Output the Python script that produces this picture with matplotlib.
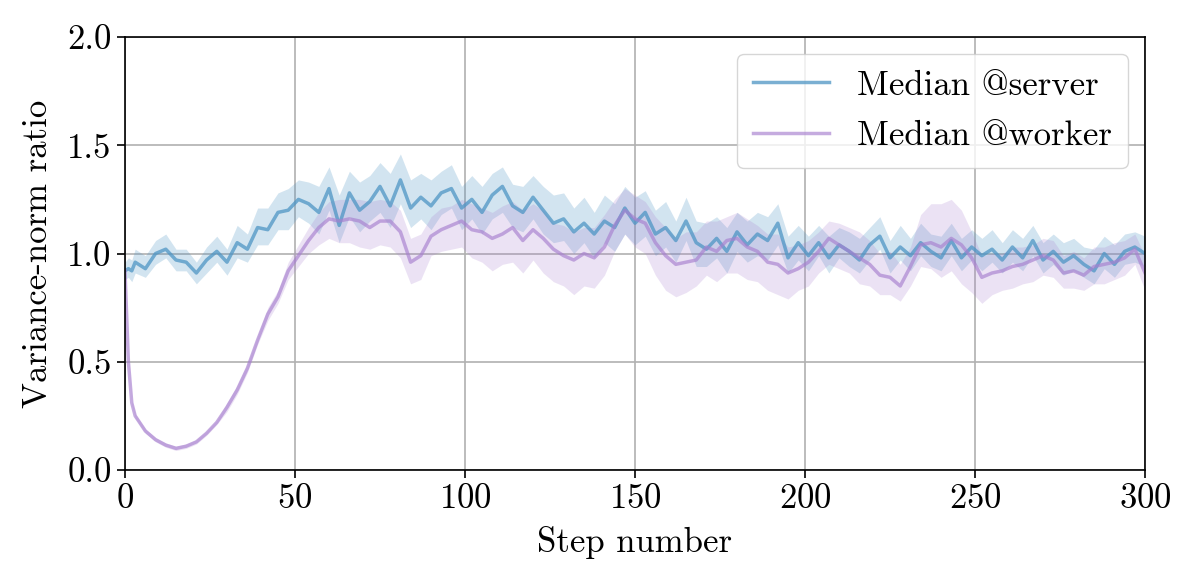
import numpy as np
import matplotlib
matplotlib.use("Agg")
import matplotlib.pyplot as plt

plt.rcParams["font.family"] = ["cmr10", "DejaVu Serif"]
plt.rcParams["mathtext.fontset"] = "cm"
plt.rcParams["axes.formatter.use_mathtext"] = True
plt.rcParams["axes.unicode_minus"] = False

# -----------------------------
# data
# -----------------------------
steps = [0, 1, 2] + list(range(3, 301, 3))

server_med = [
    0.92, 0.93, 0.92, 0.96, 0.93, 1.00, 1.02, 0.97, 0.96, 0.91,
    0.97, 1.01, 0.96, 1.05, 1.02, 1.12, 1.11, 1.19, 1.20, 1.25,
    1.23, 1.19, 1.30, 1.13, 1.28, 1.20, 1.24, 1.31, 1.22, 1.34,
    1.21, 1.26, 1.22, 1.28, 1.30, 1.21, 1.25, 1.19, 1.27, 1.31,
    1.22, 1.19, 1.26, 1.20, 1.14, 1.16, 1.10, 1.14, 1.09, 1.15,
    1.12, 1.21, 1.14, 1.19, 1.09, 1.12, 1.06, 1.15, 1.05, 1.02,
    1.07, 1.01, 1.10, 1.04, 1.09, 1.06, 1.14, 0.98, 1.05, 0.99,
    1.05, 0.98, 1.04, 1.01, 0.97, 1.04, 1.08, 0.98, 1.03, 0.99,
    1.05, 1.01, 0.98, 1.06, 0.98, 1.03, 0.99, 1.02, 0.97, 1.03,
    0.98, 1.06, 0.97, 1.01, 0.96, 0.99, 0.95, 0.92, 1.00, 0.95,
    1.01, 1.03, 1.00,
]
server_lo = [
    0.04, 0.04, 0.05, 0.05, 0.04, 0.05, 0.04, 0.05, 0.04, 0.05,
    0.06, 0.05, 0.06, 0.07, 0.06, 0.08, 0.07, 0.08, 0.09, 0.08,
    0.09, 0.10, 0.10, 0.08, 0.11, 0.10, 0.09, 0.12, 0.10, 0.11,
    0.09, 0.10, 0.11, 0.10, 0.09, 0.10, 0.09, 0.10, 0.11, 0.12,
    0.10, 0.09, 0.10, 0.11, 0.09, 0.10, 0.10, 0.09, 0.11, 0.10,
    0.11, 0.12, 0.10, 0.11, 0.10, 0.09, 0.10, 0.09, 0.11, 0.08,
    0.09, 0.10, 0.09, 0.08, 0.10, 0.09, 0.10, 0.07, 0.08, 0.07,
    0.06, 0.07, 0.06, 0.07, 0.06, 0.07, 0.06, 0.07, 0.06, 0.07,
    0.06, 0.07, 0.06, 0.07, 0.06, 0.06, 0.07, 0.06, 0.06, 0.07,
    0.06, 0.07, 0.06, 0.06, 0.06, 0.07, 0.06, 0.06, 0.07, 0.06,
    0.06, 0.07, 0.06,
]
server_hi = [
    0.04, 0.05, 0.05, 0.06, 0.06, 0.06, 0.07, 0.05, 0.06, 0.05,
    0.06, 0.07, 0.06, 0.08, 0.07, 0.09, 0.10, 0.09, 0.10, 0.09,
    0.10, 0.12, 0.10, 0.14, 0.10, 0.13, 0.12, 0.11, 0.15, 0.12,
    0.13, 0.11, 0.12, 0.10, 0.11, 0.10, 0.11, 0.12, 0.10, 0.09,
    0.10, 0.12, 0.10, 0.11, 0.13, 0.12, 0.11, 0.12, 0.10, 0.12,
    0.11, 0.10, 0.12, 0.10, 0.11, 0.12, 0.09, 0.11, 0.10, 0.12,
    0.10, 0.11, 0.09, 0.11, 0.10, 0.11, 0.09, 0.10, 0.08, 0.09,
    0.08, 0.10, 0.08, 0.09, 0.10, 0.08, 0.09, 0.08, 0.10, 0.08,
    0.09, 0.08, 0.10, 0.08, 0.09, 0.08, 0.08, 0.09, 0.08, 0.08,
    0.09, 0.07, 0.08, 0.08, 0.09, 0.08, 0.08, 0.10, 0.08, 0.09,
    0.08, 0.07, 0.08,
]

worker_med = [
    0.92, 0.50, 0.31, 0.25, 0.18, 0.14, 0.115, 0.10, 0.11, 0.13,
    0.17, 0.22, 0.29, 0.37, 0.47, 0.60, 0.72, 0.80, 0.92, 0.99,
    1.06, 1.12, 1.16, 1.15, 1.16, 1.15, 1.12, 1.15, 1.15, 1.10,
    0.96, 0.99, 1.08, 1.11, 1.13, 1.15, 1.11, 1.10, 1.07, 1.09,
    1.12, 1.06, 1.11, 1.07, 1.02, 0.99, 0.97, 1.00, 0.98, 1.03,
    1.13, 1.20, 1.16, 1.14, 1.05, 0.99, 0.95, 0.96, 0.97, 1.03,
    1.01, 1.06, 1.07, 1.03, 1.01, 0.96, 0.95, 0.91, 0.93, 0.96,
    1.01, 1.07, 1.04, 1.01, 0.98, 0.95, 0.90, 0.89, 0.85, 0.94,
    1.04, 1.05, 1.03, 1.07, 1.04, 0.98, 0.89, 0.91, 0.92, 0.94,
    0.95, 0.97, 0.99, 0.97, 0.91, 0.92, 0.90, 0.94, 0.95, 0.96,
    0.98, 1.02, 0.91,
]
worker_lo = [
    0.01, 0.01, 0.01, 0.01, 0.01, 0.01, 0.01, 0.01, 0.01, 0.01,
    0.01, 0.01, 0.02, 0.02, 0.02, 0.02, 0.03, 0.03, 0.04, 0.05,
    0.06, 0.08, 0.09, 0.10, 0.11, 0.12, 0.10, 0.11, 0.12, 0.12,
    0.10, 0.11, 0.09, 0.10, 0.11, 0.12, 0.13, 0.14, 0.15, 0.14,
    0.16, 0.15, 0.14, 0.16, 0.15, 0.14, 0.16, 0.15, 0.14, 0.13,
    0.12, 0.11, 0.13, 0.14, 0.15, 0.16, 0.15, 0.14, 0.12, 0.13,
    0.14, 0.15, 0.16, 0.15, 0.14, 0.13, 0.14, 0.12, 0.10, 0.11,
    0.10, 0.12, 0.11, 0.10, 0.12, 0.10, 0.09, 0.08, 0.07, 0.09,
    0.10, 0.12, 0.14, 0.15, 0.18, 0.16, 0.12, 0.10, 0.09, 0.10,
    0.09, 0.10, 0.09, 0.08, 0.07, 0.08, 0.07, 0.08, 0.09, 0.08,
    0.08, 0.07, 0.08,
]
worker_hi = [
    0.01, 0.01, 0.01, 0.01, 0.01, 0.01, 0.01, 0.01, 0.01, 0.01,
    0.01, 0.01, 0.02, 0.02, 0.02, 0.02, 0.03, 0.03, 0.04, 0.05,
    0.06, 0.07, 0.08, 0.10, 0.09, 0.10, 0.12, 0.10, 0.09, 0.10,
    0.11, 0.10, 0.09, 0.10, 0.09, 0.10, 0.12, 0.11, 0.12, 0.13,
    0.12, 0.14, 0.12, 0.13, 0.12, 0.14, 0.13, 0.12, 0.14, 0.15,
    0.12, 0.10, 0.11, 0.10, 0.12, 0.13, 0.12, 0.14, 0.13, 0.12,
    0.14, 0.11, 0.12, 0.13, 0.12, 0.13, 0.14, 0.12, 0.11, 0.10,
    0.09, 0.08, 0.10, 0.11, 0.12, 0.11, 0.10, 0.12, 0.10, 0.09,
    0.14, 0.18, 0.20, 0.18, 0.16, 0.12, 0.10, 0.09, 0.08, 0.09,
    0.08, 0.07, 0.08, 0.09, 0.08, 0.09, 0.08, 0.09, 0.08, 0.09,
    0.08, 0.07, 0.08,
]

x = np.asarray(steps, dtype=float)
s_med = np.asarray(server_med)
w_med = np.asarray(worker_med)

server_color = "#4e95c4"
worker_color = "#a77fcf"
fs = 25

fig = plt.figure(figsize=(11.96, 5.83), dpi=100)
ax = fig.add_axes([0.1045, 0.1938, 0.8529, 0.7427])

ax.fill_between(x, s_med - np.asarray(server_lo), s_med + np.asarray(server_hi),
                color=server_color, alpha=0.25, linewidth=0)
ax.fill_between(x, w_med - np.asarray(worker_lo), w_med + np.asarray(worker_hi),
                color=worker_color, alpha=0.22, linewidth=0)
ax.plot(x, s_med, color=server_color, alpha=0.75, linewidth=2.5, label="Median @server")
ax.plot(x, w_med, color=worker_color, alpha=0.65, linewidth=2.5, label="Median @worker")

ax.set_xlim(0, 300)
ax.set_ylim(0, 2.0)
ax.set_xticks([0, 50, 100, 150, 200, 250, 300])
ax.set_yticks([0.0, 0.5, 1.0, 1.5, 2.0])
ax.set_yticklabels(["0.0", "0.5", "1.0", "1.5", "2.0"])
ax.tick_params(labelsize=fs, direction="out", length=6, width=1.2)
ax.grid(True, color="#b0b0b0", linewidth=1.2)
ax.set_axisbelow(True)
for sp in ax.spines.values():
    sp.set_linewidth(1.2)

ax.set_xlabel("Step number", fontsize=fs, labelpad=8)
ax.set_ylabel("Variance-norm ratio", fontsize=fs, labelpad=10)

ax.legend(loc="upper right", fontsize=fs, handlelength=2.2, handletextpad=0.8,
          borderpad=0.45, labelspacing=0.55, framealpha=0.8, edgecolor="#cccccc",
          borderaxespad=0.5)

fig.savefig("out.png", dpi=100)
